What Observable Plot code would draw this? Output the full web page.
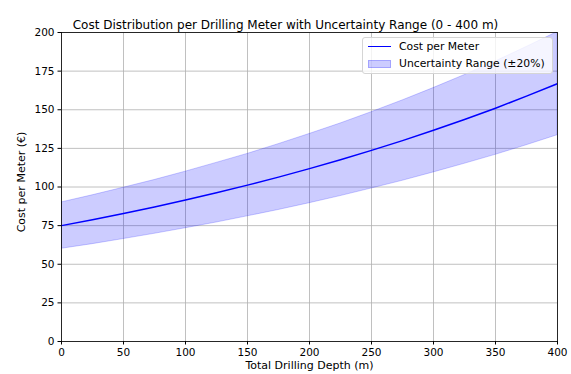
<!DOCTYPE html>
<html>
<head>
<meta charset="utf-8">
<script src="https://cdn.jsdelivr.net/npm/d3@7"></script>
<script src="https://cdn.jsdelivr.net/npm/@observablehq/plot@0.6"></script>
<style>
  body { margin: 0; background: #fff; font-family: "DejaVu Sans", sans-serif; }
  #wrap { position: relative; width: 571px; height: 374px; }
  #legend { position: absolute; left: 362px; top: 37px; width: 189px; height: 35px;
    border: 1px solid #d5d5d5; border-radius: 3px; background: rgba(255,255,255,0.8);
    font-size: 10.8px; color: #000; }
  .row { position: absolute; left: 5px; display: flex; align-items: center; white-space: nowrap; }
  .line { width: 23px; height: 0; border-top: 1.5px solid #0000ff; margin-right: 8px; }
  .sw { width: 23px; height: 8px; background: rgba(0,0,255,0.2); border: 1px solid rgba(0,0,255,0.2); box-sizing: border-box; margin-right: 8px; }
</style>
</head>
<body>
<div id="wrap"></div>
<script>
const depth = [0, 25, 50, 75, 100, 125, 150, 175, 200, 225, 250, 275, 300, 325, 350, 375, 400];
const cost  = [75, 78.8, 82.9, 87.1, 91.6, 96.3, 101.2, 106.4, 111.9, 117.6, 123.7, 130.0, 136.7, 143.7, 151.0, 158.8, 166.9];
const lower = [60, 63.0, 66.3, 69.7, 73.3, 77.0, 81.0, 85.1, 89.5, 94.1, 99.0, 104.0, 109.4, 115.0, 120.8, 127.0, 133.5];
const upper = [90, 94.6, 99.5, 104.5, 109.9, 115.6, 121.4, 127.7, 134.3, 141.1, 148.4, 156.0, 164.0, 172.4, 181.2, 190.6, 200.3];
const xTicks = [0, 50, 100, 150, 200, 250, 300, 350, 400];
const yTicks = [0, 25, 50, 75, 100, 125, 150, 175, 200];
const title = "Cost Distribution per Drilling Meter with Uncertainty Range (0 - 400 m)";
const xLabel = "Total Drilling Depth (m)";
const yLabel = "Cost per Meter (€)";
const legendLabels = ["Cost per Meter", "Uncertainty Range (±20%)"];

const data = depth.map((d, i) => ({depth: d, cost: cost[i], lower: lower[i], upper: upper[i]}));

const chart = Plot.plot({
  width: 571,
  height: 374,
  marginLeft: 61,
  marginRight: 14,
  marginTop: 32,
  marginBottom: 33,
  style: {fontFamily: "DejaVu Sans, sans-serif", fontSize: "10px", color: "#000", background: "#fff"},
  x: {domain: [0, 400]},
  y: {domain: [0, 200]},
  marks: [
    Plot.gridX(xTicks, {stroke: "#b0b0b0", strokeOpacity: 1, strokeWidth: 0.8}),
    Plot.gridY(yTicks, {stroke: "#b0b0b0", strokeOpacity: 1, strokeWidth: 0.8}),
    Plot.areaY(data, {x: "depth", y1: "lower", y2: "upper", fill: "#0000ff", fillOpacity: 0.2, stroke: "#0000ff", strokeOpacity: 0.2, strokeWidth: 1, clip: true}),
    Plot.lineY(data, {x: "depth", y: "cost", stroke: "#0000ff", strokeWidth: 1.5, clip: true}),
    Plot.frame({stroke: "#000", strokeWidth: 0.8}),
    Plot.axisX(xTicks, {tickSize: 3.5, tickPadding: 3.5, label: null, fontSize: 10.5}),
    Plot.axisY(yTicks, {tickSize: 3.5, tickPadding: 3.5, label: null, fontSize: 10.5}),
    Plot.text([title], {frameAnchor: "top", textAnchor: "middle", dx: -24, dy: -12, fontSize: 12, fill: "#000"}),
    Plot.text([xLabel], {frameAnchor: "bottom", textAnchor: "middle", dy: 27, fontSize: 11, fill: "#000"}),
    Plot.text([yLabel], {frameAnchor: "left", textAnchor: "middle", dx: -40, dy: -5, rotate: -90, fontSize: 11, fill: "#000"})
  ]
});
const wrap = document.getElementById("wrap");
wrap.appendChild(chart);
const legend = document.createElement("div");
legend.id = "legend";
legend.innerHTML = `<div class="row" style="top:2px"><div class="line"></div><span>${legendLabels[0]}</span></div>
<div class="row" style="top:19px"><div class="sw"></div><span>${legendLabels[1]}</span></div>`;
wrap.appendChild(legend);
</script>
</body>
</html>
